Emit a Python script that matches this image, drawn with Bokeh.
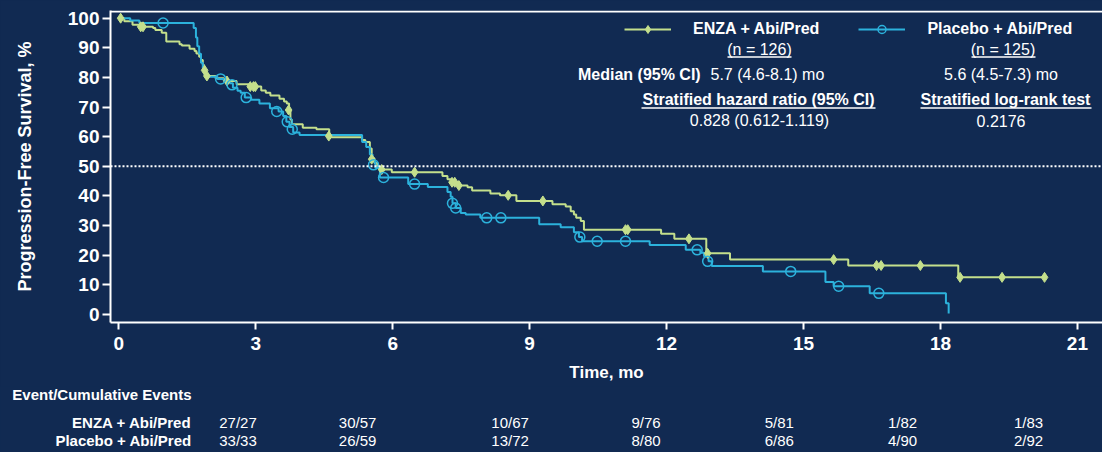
from bokeh.plotting import figure
from bokeh.layouts import column
from bokeh.models import (Range1d, FixedTicker, Span, Label, BoxAnnotation,
                          Legend, LegendItem)
from bokeh.core.properties import value
from bokeh.embed import file_html
from bokeh.resources import INLINE

# ---------------- data ----------------
enza_time = [0, 0.12, 0.3, 0.5, 0.75, 0.8, 0.94, 1.04, 1.33, 1.38, 1.55, 1.66, 1.7,
             1.76, 1.8, 1.84, 1.87, 1.91, 2.12, 2.3, 2.4, 2.58, 2.85, 3.12, 3.22,
             3.32, 3.52, 3.62, 3.68, 3.73, 3.76, 3.79, 4.03, 4.33, 4.61, 5.33, 5.4,
             5.5, 5.54, 5.6, 5.66, 5.7, 5.98, 7.09, 7.2, 7.3, 7.46, 7.64, 7.74, 8.14,
             8.35, 8.71, 9.5, 9.79, 9.9, 9.97, 10.02, 10.12, 10.19, 11.88, 12.17,
             12.87, 13.39, 15.98, 18.39, 20.28]
enza_surv = [100, 99.0, 97.8, 97.1, 96.7, 96.0, 95.1, 92.1, 91.2, 90.8, 89.7, 88.9,
             88.1, 87.0, 85.9, 84.2, 82.6, 80.5, 79.7, 79.2, 78.8, 77.7, 76.9, 75.6,
             74.8, 73.9, 72.8, 71.9, 71.2, 69.0, 65.8, 64.2, 63.0, 62.5, 59.8, 58.9,
             58.2, 56.0, 52.7, 51.1, 50.0, 48.9, 48.0, 46.7, 45.6, 44.6, 43.5, 42.9,
             41.8, 40.8, 40.2, 38.3, 37.2, 36.4, 34.8, 33.7, 32.6, 31.5, 28.6, 27.2,
             25.5, 20.6, 18.5, 16.5, 12.5, 12.5]
enza_cens_time = [0.04, 0.48, 0.53, 1.88, 1.93, 2.37, 2.88, 2.95, 2.99, 3.72, 4.6,
                  5.54, 5.76, 6.48, 7.3, 7.36, 7.45, 8.53, 9.29, 11.1, 11.15, 12.49,
                  12.9, 15.66, 16.6, 16.7, 17.56, 18.43, 19.35, 20.28]
enza_cens_surv = [100, 97.1, 97.1, 82.4, 80.5, 78.8, 76.9, 76.9, 76.9, 69.0, 60.2,
                  52.4, 48.9, 48.0, 44.6, 44.6, 43.5, 40.2, 38.3, 28.6, 28.6, 25.5,
                  20.6, 18.5, 16.5, 16.5, 16.5, 12.5, 12.5, 12.5]

pbo_time = [0, 0.25, 0.45, 1.64, 1.69, 1.72, 1.76, 1.8, 1.84, 1.88, 1.93, 2.16, 2.3,
            2.43, 2.5, 2.6, 2.67, 2.76, 2.9, 3.08, 3.31, 3.5, 3.6, 3.67, 3.74, 3.82,
            3.96, 5.33, 5.42, 5.5, 5.56, 5.62, 5.72, 6.34, 6.77, 7.2, 7.27, 7.31, 7.38,
            7.49, 7.6, 7.92, 9.21, 9.68, 9.97, 10.08, 10.15, 11.63, 12.42, 12.74,
            12.82, 12.92, 12.99, 14.11, 15.48, 15.66, 16.45, 18.12, 18.18]
pbo_surv = [100, 99.2, 98.4, 96.7, 93.5, 90.5, 88.0, 85.0, 83.0, 81.0, 80.2, 79.5,
            78.8, 78.0, 76.5, 75.5, 74.8, 73.2, 72.5, 71.2, 69.6, 68.5, 67.0, 65.0,
            63.3, 61.4, 60.6, 58.2, 56.5, 54.0, 51.5, 49.5, 46.2, 44.0, 43.0, 41.3,
            39.7, 37.5, 35.9, 34.2, 33.7, 32.6, 30.4, 29.4, 27.7, 26.1, 24.7, 23.4,
            21.8, 20.8, 19.6, 17.9, 16.3, 14.5, 10.9, 9.5, 7.1, 3.8, 0.3]
pbo_cens_time = [0.97, 2.23, 2.48, 2.79, 3.46, 3.69, 3.8, 5.58, 5.8, 6.48, 7.31, 7.38,
                 8.06, 8.37, 10.1, 10.48, 11.1, 12.67, 12.9, 14.72, 15.77, 16.65]
pbo_cens_surv = [98.4, 79.5, 77.5, 73.2, 68.5, 65.0, 62.5, 50.5, 46.2, 44.0, 37.5,
                 35.9, 32.6, 32.6, 26.1, 24.7, 24.7, 21.8, 17.9, 14.5, 9.5, 7.1]

x_ticks = [0, 3, 6, 9, 12, 15, 18, 21]
y_ticks = [0, 10, 20, 30, 40, 50, 60, 70, 80, 90, 100]
median_ref = 50

groups = ["ENZA + Abi/Pred", "Placebo + Abi/Pred"]
group_n = ["(n = 126)", "(n = 125)"]
medians = ["5.7 (4.6-8.1) mo", "5.6 (4.5-7.3) mo"]
hr_title = "Stratified hazard ratio (95% CI)"
hr_text = "0.828 (0.612-1.119)"
lr_title = "Stratified log-rank test"
lr_text = "0.2176"

table_title = "Event/Cumulative Events"
table_enza = ["27/27", "30/57", "10/67", "9/76", "5/81", "1/82", "1/83"]
table_pbo = ["33/33", "26/59", "13/72", "8/80", "6/86", "4/90", "2/92"]
table_x = [2.2, 4.82, 8.16, 11.23, 14.15, 16.85, 19.61]

# ---------------- style ----------------
BG = "#112a52"
GREEN = "#c4df8c"
BLUE = "#2cb2dc"
WHITE = "#ffffff"
FONT = "Liberation Sans"

W = 1102
H1, H2 = 386, 66
LEFT = 110
PX_PER_MONTH = 45.64
X0, X1 = -0.182, 21.55
Y0, Y1 = -2.74, 102.6

p = figure(width=W, height=H1, output_backend="svg", toolbar_location=None,
           x_range=Range1d(X0, X1), y_range=Range1d(Y0, Y1),
           min_border_left=LEFT, min_border_right=0, min_border_top=10,
           min_border_bottom=64)
p.frame_align = False
p.background_fill_color = BG
p.border_fill_color = BG
p.outline_line_color = None
p.grid.visible = False

for ax in (p.xaxis[0], p.yaxis[0]):
    ax.axis_line_color = WHITE
    ax.axis_line_width = 2
    ax.major_tick_line_color = WHITE
    ax.major_tick_line_width = 2
    ax.major_tick_in = 0
    ax.minor_tick_line_color = None
    ax.major_label_text_color = WHITE
    ax.major_label_text_font = FONT
    ax.major_label_text_font_style = "bold"
    ax.major_label_text_font_size = "19px"
    ax.axis_label_text_color = WHITE
    ax.axis_label_text_font = FONT
    ax.axis_label_text_font_style = "bold"

p.xaxis.ticker = FixedTicker(ticks=x_ticks)
p.yaxis.ticker = FixedTicker(ticks=y_ticks)
p.xaxis.major_tick_out = 7
p.yaxis.major_tick_out = 8
p.xaxis.major_label_standoff = 7
p.yaxis.major_label_standoff = 3
p.xaxis.axis_label = "Time, mo"
p.xaxis.axis_label_text_font_size = "17px"
p.xaxis.axis_label_standoff = 10
p.yaxis.axis_label = "Progression-Free Survival, %"
p.yaxis.axis_label_text_font_size = "18px"
p.yaxis.axis_label_standoff = 30

# top border line and 50% reference
p.add_layout(Span(location=Y1 - 0.3, dimension="width", line_color=WHITE, line_width=2))
p.add_layout(Span(location=median_ref, dimension="width", line_color=WHITE,
                  line_width=2, line_dash="2 2"))

# curves
r_e = p.step(enza_time, enza_surv, mode="after", line_color=GREEN, line_width=2)
r_p = p.step(pbo_time, pbo_surv, mode="after", line_color=BLUE, line_width=2)
m_e = p.scatter(enza_cens_time, enza_cens_surv, marker="diamond", size=10,
                fill_color=GREEN, line_color=GREEN)
m_p = p.scatter(pbo_cens_time, pbo_cens_surv, marker="circle", size=10,
                fill_color=None, line_color=BLUE, line_width=1.5)

legend = Legend(items=[LegendItem(label=groups[0], renderers=[r_e, m_e]),
                       LegendItem(label=groups[1], renderers=[r_p, m_p])],
                orientation="horizontal", location=(514, 283),
                glyph_width=47, glyph_height=20, label_height=20,
                label_standoff=22, spacing=39, padding=0, margin=0,
                border_line_color=None, background_fill_alpha=0,
                label_text_color=WHITE, label_text_font=FONT,
                label_text_font_style="bold", label_text_font_size="16px")
p.add_layout(legend)


def lab(text, x, y, align="left", bold=False, size="16px"):
    p.add_layout(Label(x=x, y=y, x_units="screen", y_units="screen", text=text,
                       text_align=align, text_baseline="middle",
                       text_color=WHITE, text_font=FONT,
                       text_font_style="bold" if bold else "normal",
                       text_font_size=size))


def underline(left, right, y):
    p.add_layout(BoxAnnotation(left=left, right=right, bottom=y - 0.75, top=y + 0.75,
                               left_units="screen", right_units="screen",
                               top_units="screen", bottom_units="screen",
                               fill_color=WHITE, fill_alpha=1, line_color=None))


lab(group_n[0], 649, 273, "center")
underline(617, 681, 265.5)
lab(group_n[1], 892.5, 273, "center")
underline(861, 925, 265.5)
lab("Median (95% CI)", 467.5, 248, "left", True)
lab(medians[0], 600, 248, "left")
lab(medians[1], 890.5, 248, "center")
lab(hr_title, 648, 223, "center", True)
underline(531, 765, 214.5)
lab(hr_text, 649, 202, "center")
lab(lr_title, 895, 223, "center", True)
underline(810, 981, 214.5)
lab(lr_text, 890.5, 202, "center")

# ---------------- event table (second figure, same month scale) ----------------
t = figure(width=W, height=H2, output_backend="svg", toolbar_location=None,
           x_range=Range1d(X0 - LEFT / PX_PER_MONTH, X1), y_range=Range1d(H2, 0),
           min_border_left=0, min_border_right=0, min_border_top=0,
           min_border_bottom=0, x_axis_type=None, y_axis_type=None)
t.frame_align = False
t.background_fill_color = BG
t.border_fill_color = BG
t.outline_line_color = None
t.grid.visible = False

ROW_HEAD, ROW_E, ROW_P = 8, 36, 54
LABEL_RIGHT = 1.597
HEAD_LEFT = -2.333

t.text(x=[HEAD_LEFT], y=[ROW_HEAD], text=[table_title], text_color=WHITE,
       text_font=value(FONT), text_font_style="bold", text_font_size="15px",
       text_align="left", text_baseline="middle")
t.text(x=[LABEL_RIGHT, LABEL_RIGHT], y=[ROW_E, ROW_P], text=groups, text_color=WHITE,
       text_font=value(FONT), text_font_style="bold", text_font_size="15px",
       text_align="right", text_baseline="middle")
t.text(x=table_x, y=[ROW_E] * len(table_x), text=table_enza, text_color=WHITE,
       text_font=value(FONT), text_font_size="15px", text_align="left",
       text_baseline="middle")
t.text(x=table_x, y=[ROW_P] * len(table_x), text=table_pbo, text_color=WHITE,
       text_font=value(FONT), text_font_size="15px", text_align="left",
       text_baseline="middle")

layout = column(p, t, spacing=0, styles={"background-color": BG})
open("out.html", "w").write(file_html(layout, INLINE))
